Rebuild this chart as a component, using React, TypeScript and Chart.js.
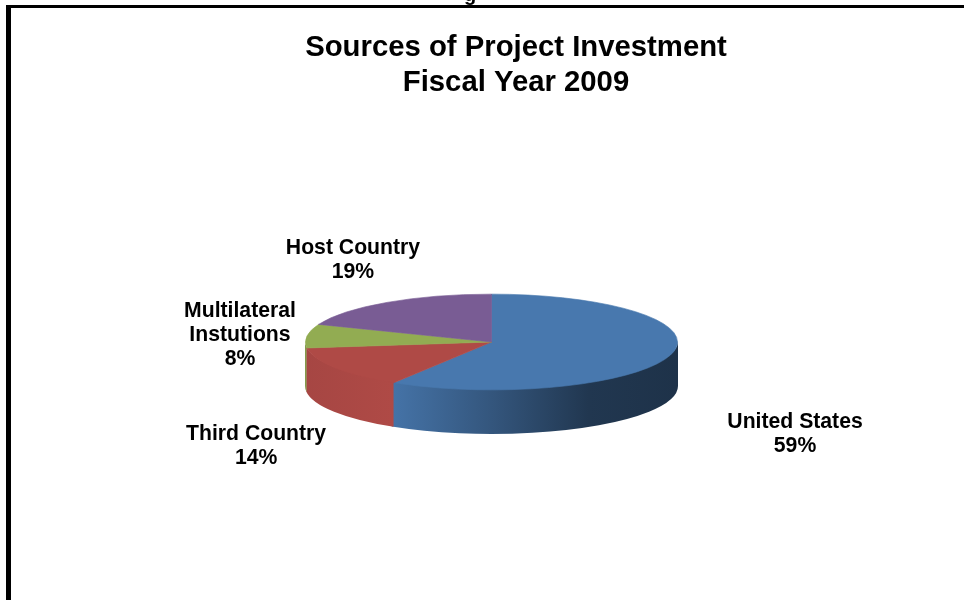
import React, { useEffect, useRef } from "react";
import Chart from "chart.js/auto";

const categories = ["United States", "Third Country", "Multilateral\nInstutions", "Host Country"];
const shares = [58.8, 14.2, 8, 19];
const sliceColors = ["#4878ae", "#af4a46", "#92ac52", "#795c94"];
const chartTitle = ["Sources of Project Investment", "Fiscal Year 2009"];

const FONT = "'Liberation Sans', Arial, sans-serif";
const TILT = 48 / 186.5;
const DEPTH = 44;
const CENTER_Y = 342;
const TITLE_CENTER_X = 516;
const labelOffsets = [[124.6, 79], [-79, 78.5], [-67, -1], [-34, -42.5]];
const wallShades = [
  [[0.236, 0.96], [0.5, 0.72], [0.76, 0.46], [1, 0.42]],
  [[0, 0.95], [0.236, 1]],
  [[0, 0.9], [0.1, 0.9]],
  [[0, 1], [1, 1]],
];

function shade(hex: string, f: number) {
  const n = parseInt(hex.slice(1), 16);
  return `rgb(${Math.round((n >> 16) * f)},${Math.round(((n >> 8) & 255) * f)},${Math.round((n & 255) * f)})`;
}

const tiltedPie = {
  id: "tiltedPie",
  afterLayout(chart: any) {
    // the title is centred to the right of the pie's own centre
    chart.titleBlock.left = TITLE_CENTER_X - 420;
    chart.titleBlock.right = TITLE_CENTER_X + 420;
  },
  beforeDatasetsDraw(chart: any) {
    const ctx = chart.ctx;
    const arcs = chart.getDatasetMeta(0).data;
    arcs.forEach((arc: any, i: number) => {
      const a0 = Math.max(arc.startAngle, 0);
      const a1 = Math.min(arc.endAngle + 0.012, Math.PI);
      if (a1 <= a0) return;
      const r = arc.outerRadius + 0.5;
      const ry = r * TILT;
      const g = ctx.createLinearGradient(arc.x - r, 0, arc.x + r, 0);
      wallShades[i].forEach(([t, f]) => g.addColorStop(t, shade(sliceColors[i], f)));
      ctx.save();
      ctx.beginPath();
      ctx.ellipse(arc.x, CENTER_Y - 1, r, ry, 0, a0, a1);
      ctx.ellipse(arc.x, CENTER_Y + DEPTH, r, ry, 0, a1, a0, true);
      ctx.closePath();
      ctx.fillStyle = g;
      ctx.fill();
      ctx.restore();
    });
    const first = arcs[0];
    ctx.save();
    ctx.translate(0, CENTER_Y);
    ctx.scale(1, TILT);
    ctx.translate(0, -first.y);
  },
  afterDatasetsDraw(chart: any) {
    const ctx = chart.ctx;
    ctx.restore();
    const arcs = chart.getDatasetMeta(0).data;
    ctx.save();
    ctx.font = `bold 21.2px ${FONT}`;
    ctx.fillStyle = "#000";
    ctx.textAlign = "center";
    ctx.textBaseline = "middle";
    arcs.forEach((arc: any, i: number) => {
      const mid = (arc.startAngle + arc.endAngle) / 2;
      const x = arc.x + arc.outerRadius * Math.cos(mid) + labelOffsets[i][0];
      const y = CENTER_Y + arc.outerRadius * TILT * Math.sin(mid) + labelOffsets[i][1];
      const lines = [...categories[i].split("\n"), `${Math.round(shares[i])}%`];
      lines.forEach((line, k) => {
        ctx.fillText(line, x, y + (k - (lines.length - 1) / 2) * 24);
      });
    });
    ctx.restore();
  },
};

export default function App() {
  const ref = useRef<HTMLCanvasElement>(null);
  useEffect(() => {
    const chart = new Chart(ref.current!, {
      type: "pie",
      data: {
        labels: categories,
        datasets: [{ data: shares, backgroundColor: sliceColors, borderColor: sliceColors, borderWidth: 1, clip: false } as any],
      },
      options: {
        responsive: false,
        animation: false,
        rotation: 0,
        layout: { padding: { left: 305, right: 286, top: 0, bottom: 71.5 } },
        plugins: {
          legend: { display: false },
          tooltip: { enabled: false },
          title: {
            display: true,
            text: chartTitle,
            color: "#000",
            font: { family: FONT, size: 29.3, weight: "bold", lineHeight: 35 / 29.3 },
            padding: { top: 30, bottom: 55.5 },
          },
        },
      },
      plugins: [tiltedPie],
    } as any);
    return () => chart.destroy();
  }, []);
  return (
    <div style={{ position: "fixed", left: 0, top: 0, width: 964, height: 600, overflow: "hidden", background: "#fff" }}>
      <canvas ref={ref} width={964} height={600} style={{ display: "block" }} />
      <div style={{ position: "absolute", left: 6, top: 5, right: 0, bottom: 0, borderTop: "3px solid #000", borderLeft: "5px solid #000" }} />
      <span style={{ position: "absolute", left: 464, top: -16, font: `bold 20px/20px ${FONT}`, color: "#000" }}>g</span>
    </div>
  );
}
